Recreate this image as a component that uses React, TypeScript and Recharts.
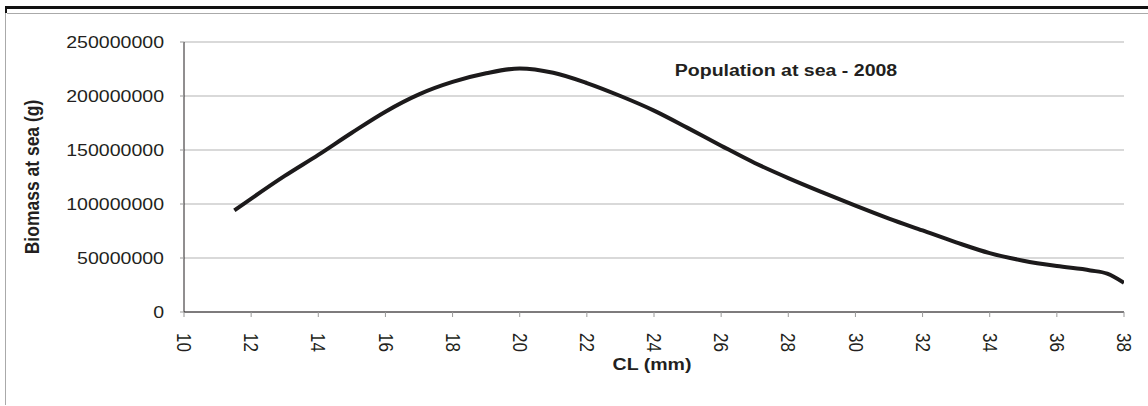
import React from 'react';
import { LineChart, Line, XAxis, YAxis, CartesianGrid, Label } from 'recharts';

const clValues = [11.5, 13, 14, 15, 16, 17, 18, 19, 20, 21, 22, 23, 24, 25, 26, 27, 28, 29, 30, 31, 32, 33, 34, 35, 36, 37, 37.5, 38];
const biomassValues = [
  94000000, 126000000, 145500000, 166000000, 185500000, 201500000, 213000000, 221000000, 225500000,
  221500000, 212000000, 200000000, 186500000, 170500000, 154000000, 138000000, 124000000, 111000000, 98500000,
  86500000, 75500000, 64500000, 54500000, 47500000, 42500000, 38500000, 35500000, 27000000,
];
const xTicks = [10, 12, 14, 16, 18, 20, 22, 24, 26, 28, 30, 32, 34, 36, 38];
const yTicks = [0, 50000000, 100000000, 150000000, 200000000, 250000000];

const chartTitle = 'Population at sea - 2008';
const xLabel = 'CL (mm)';
const yLabel = 'Biomass at sea (g)';

const data = clValues.map((cl, i) => ({ cl, biomass: biomassValues[i] }));

const FONT = '"Liberation Sans", Arial, sans-serif';
const INK = '#231f20';
// the original picture is a little wider than tall, text included
const SX = 1.15;

const XTick = (props: any) => {
  const { x, y, payload } = props;
  return (
    <text
      transform={`translate(${x}, ${y}) scale(${SX}, 1) rotate(90)`}
      textAnchor="start"
      dy="0.35em"
      fontSize={17}
      fontFamily={FONT}
      fill={INK}
    >
      {payload.value}
    </text>
  );
};

const YTick = (props: any) => {
  const { x, y, payload } = props;
  return (
    <text
      transform={`translate(${x}, ${y}) scale(${SX}, 1)`}
      textAnchor="end"
      dy="0.35em"
      fontSize={17}
      fontFamily={FONT}
      fill={INK}
    >
      {payload.value}
    </text>
  );
};

const App: React.FC = () => {
  return (
    <div style={{ position: 'absolute', left: 0, top: 0, width: 1148, height: 406, background: '#fff' }}>
      {/* frame */}
      <div style={{ position: 'absolute', left: 5, top: 6, width: 1143, height: 3, background: '#111' }} />
      <div style={{ position: 'absolute', left: 5, top: 6, width: 2, height: 7, background: '#111' }} />
      <div style={{ position: 'absolute', left: 7, top: 13, width: 1141, height: 1, background: '#aaa' }} />
      <div style={{ position: 'absolute', left: 5, top: 13, width: 1, height: 392, background: '#aaa' }} />
      <div style={{ position: 'absolute', left: 0, top: 0 }}>
        <LineChart width={1148} height={406} data={data} margin={{ top: 42, right: 24, bottom: 0, left: 0 }}>
          <CartesianGrid vertical={false} stroke="#b3b3b3" strokeWidth={1} />
          <XAxis
            dataKey="cl"
            type="number"
            domain={[10, 38]}
            ticks={xTicks}
            allowDataOverflow
            interval={0}
            stroke={INK}
            tickLine={{ stroke: '#999' }}
            tickSize={5}
            tickMargin={16}
            tick={<XTick />}
            height={94}
          >
            <Label
              content={() => (
                <text
                  transform={`translate(652, 370) scale(${SX}, 1)`}
                  textAnchor="middle"
                  fontSize={17}
                  fontWeight="bold"
                  fontFamily={FONT}
                  fill={INK}
                >
                  {xLabel}
                </text>
              )}
            />
          </XAxis>
          <YAxis
            type="number"
            domain={[0, 250000000]}
            ticks={yTicks}
            interval={0}
            width={184}
            stroke={INK}
            tickLine={{ stroke: '#999' }}
            tickSize={4}
            tickMargin={16}
            tick={<YTick />}
          >
            <Label
              content={() => (
                <text
                  transform={`translate(32, 177) scale(${SX}, 1) rotate(-90)`}
                  textAnchor="middle"
                  dy="0.35em"
                  fontSize={17.5}
                  fontWeight="bold"
                  fontFamily={FONT}
                  fill={INK}
                >
                  {yLabel}
                </text>
              )}
            />
          </YAxis>
          <Line
            type="monotone"
            dataKey="biomass"
            stroke="#1c1a1b"
            strokeWidth={4}
            dot={false}
            isAnimationActive={false}
          />
          <text
            transform={`translate(786, 76) scale(${SX}, 1)`}
            textAnchor="middle"
            fontSize={17}
            fontWeight="bold"
            fontFamily={FONT}
            fill={INK}
          >
            {chartTitle}
          </text>
        </LineChart>
      </div>
    </div>
  );
};

export default App;
